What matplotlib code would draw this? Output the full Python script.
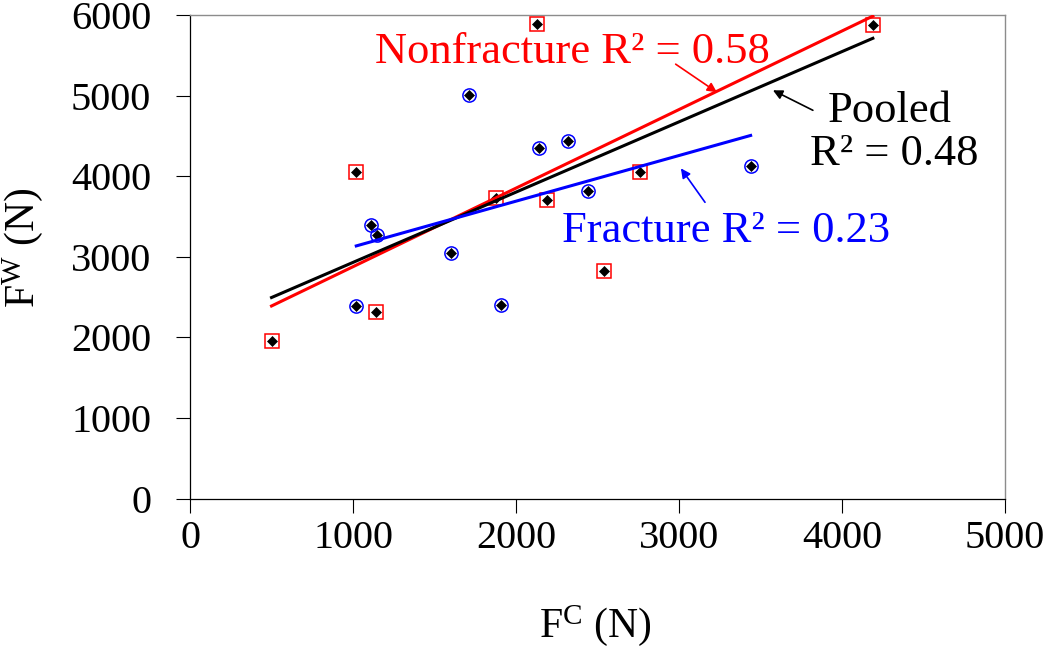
import matplotlib
matplotlib.use("Agg")
import matplotlib.pyplot as plt

plt.rcParams["font.family"] = ["Liberation Serif", "DejaVu Serif"]
plt.rcParams["mathtext.fontset"] = "custom"
plt.rcParams["mathtext.rm"] = "Liberation Serif"
plt.rcParams["mathtext.it"] = "Liberation Serif:italic"

# nonfracture cases (red squares)
nonfx_fc = [500, 1020, 1140, 1880, 2130, 2190, 2540, 2760, 4190]
nonfx_fw = [1950, 4050, 2310, 3730, 5890, 3710, 2830, 4050, 5880]

# fracture cases (blue circles)
frac_fc = [1020, 1110, 1150, 1600, 1710, 1910, 2140, 2320, 2440, 3440]
frac_fw = [2390, 3400, 3270, 3050, 5010, 2400, 4350, 4440, 3810, 4130]

# trend lines as drawn in the figure (end points)
nonfx_fit_fc = [500, 4190]
nonfx_fit_fw = [2390, 5985]
pooled_fit_fc = [500, 4190]
pooled_fit_fw = [2495, 5710]
frac_fit_fc = [1020, 3440]
frac_fit_fw = [3135, 4505]

x_ticks = [0, 1000, 2000, 3000, 4000, 5000]
y_ticks = [0, 1000, 2000, 3000, 4000, 5000, 6000]

label_nonfx = "Nonfracture R\u00b2 = 0.58"
label_pooled = ["Pooled", "R\u00b2 = 0.48"]
label_frac = "Fracture R\u00b2 = 0.23"

fig = plt.figure(figsize=(10.5, 6.48), dpi=100)
ax = fig.add_axes([0.181, 0.2304, 0.776, 0.7466])

# markers: open outline + small black diamond
ax.plot(nonfx_fc, nonfx_fw, linestyle="none", marker="s", ms=10.5,
        mfc="none", mec="red", mew=1.1, zorder=3)
ax.plot(frac_fc, frac_fw, linestyle="none", marker="o", ms=9.5,
        mfc="none", mec="blue", mew=1.1, zorder=3)
ax.plot(nonfx_fc + frac_fc, nonfx_fw + frac_fw, linestyle="none", marker="D",
        ms=4.6, mfc="black", mec="black", mew=0.5, zorder=4)

# trend lines
ax.plot(nonfx_fit_fc, nonfx_fit_fw, color="red", lw=2.2, zorder=5)
ax.plot(pooled_fit_fc, pooled_fit_fw, color="black", lw=2.2, zorder=6)
ax.plot(frac_fit_fc, frac_fit_fw, color="blue", lw=2.2, zorder=7)

# annotations
txt_size = 32
arrow_kw = dict(arrowstyle="-|>", lw=1.2, mutation_scale=14, shrinkA=0, shrinkB=0)
ax.text(2347, 5400, label_nonfx, color="red", fontsize=txt_size,
        ha="center", va="baseline")
ax.annotate("", xy=(3233, 5041), xytext=(2980, 5389),
            arrowprops=dict(color="red", **arrow_kw))
ax.text(4294, 4668, label_pooled[0], color="black", fontsize=txt_size,
        ha="center", va="baseline")
ax.text(4319, 4135, label_pooled[1], color="black", fontsize=txt_size,
        ha="center", va="baseline")
ax.annotate("", xy=(3577, 5065), xytext=(3822, 4817),
            arrowprops=dict(color="black", **arrow_kw))
ax.text(3288, 3182, label_frac, color="blue", fontsize=txt_size,
        ha="center", va="baseline")
ax.annotate("", xy=(3012, 4097), xytext=(3160, 3676),
            arrowprops=dict(color="blue", **arrow_kw))

ax.set_xlim(0, 5000)
ax.set_ylim(0, 6000)
ax.set_xticks(x_ticks)
ax.set_yticks(y_ticks)
ax.tick_params(axis="both", direction="out", length=10, width=0.8,
               labelsize=29, color="black")
ax.tick_params(axis="y", pad=18)
ax.tick_params(axis="x", pad=5)

for side in ("top", "right"):
    ax.spines[side].set_color("#8c8c8c")
    ax.spines[side].set_linewidth(1.0)
for side in ("left", "bottom"):
    ax.spines[side].set_color("black")
    ax.spines[side].set_linewidth(0.9)

ax.set_xlabel(r"F$^{\mathrm{C}}$ (N)", fontsize=30)
ax.set_ylabel(r"F$^{\mathrm{W}}$ (N)", fontsize=30)
ax.xaxis.set_label_coords(0.497, -0.215)
ax.yaxis.set_label_coords(-0.178, 0.518)

fig.savefig("out.png", dpi=100)
